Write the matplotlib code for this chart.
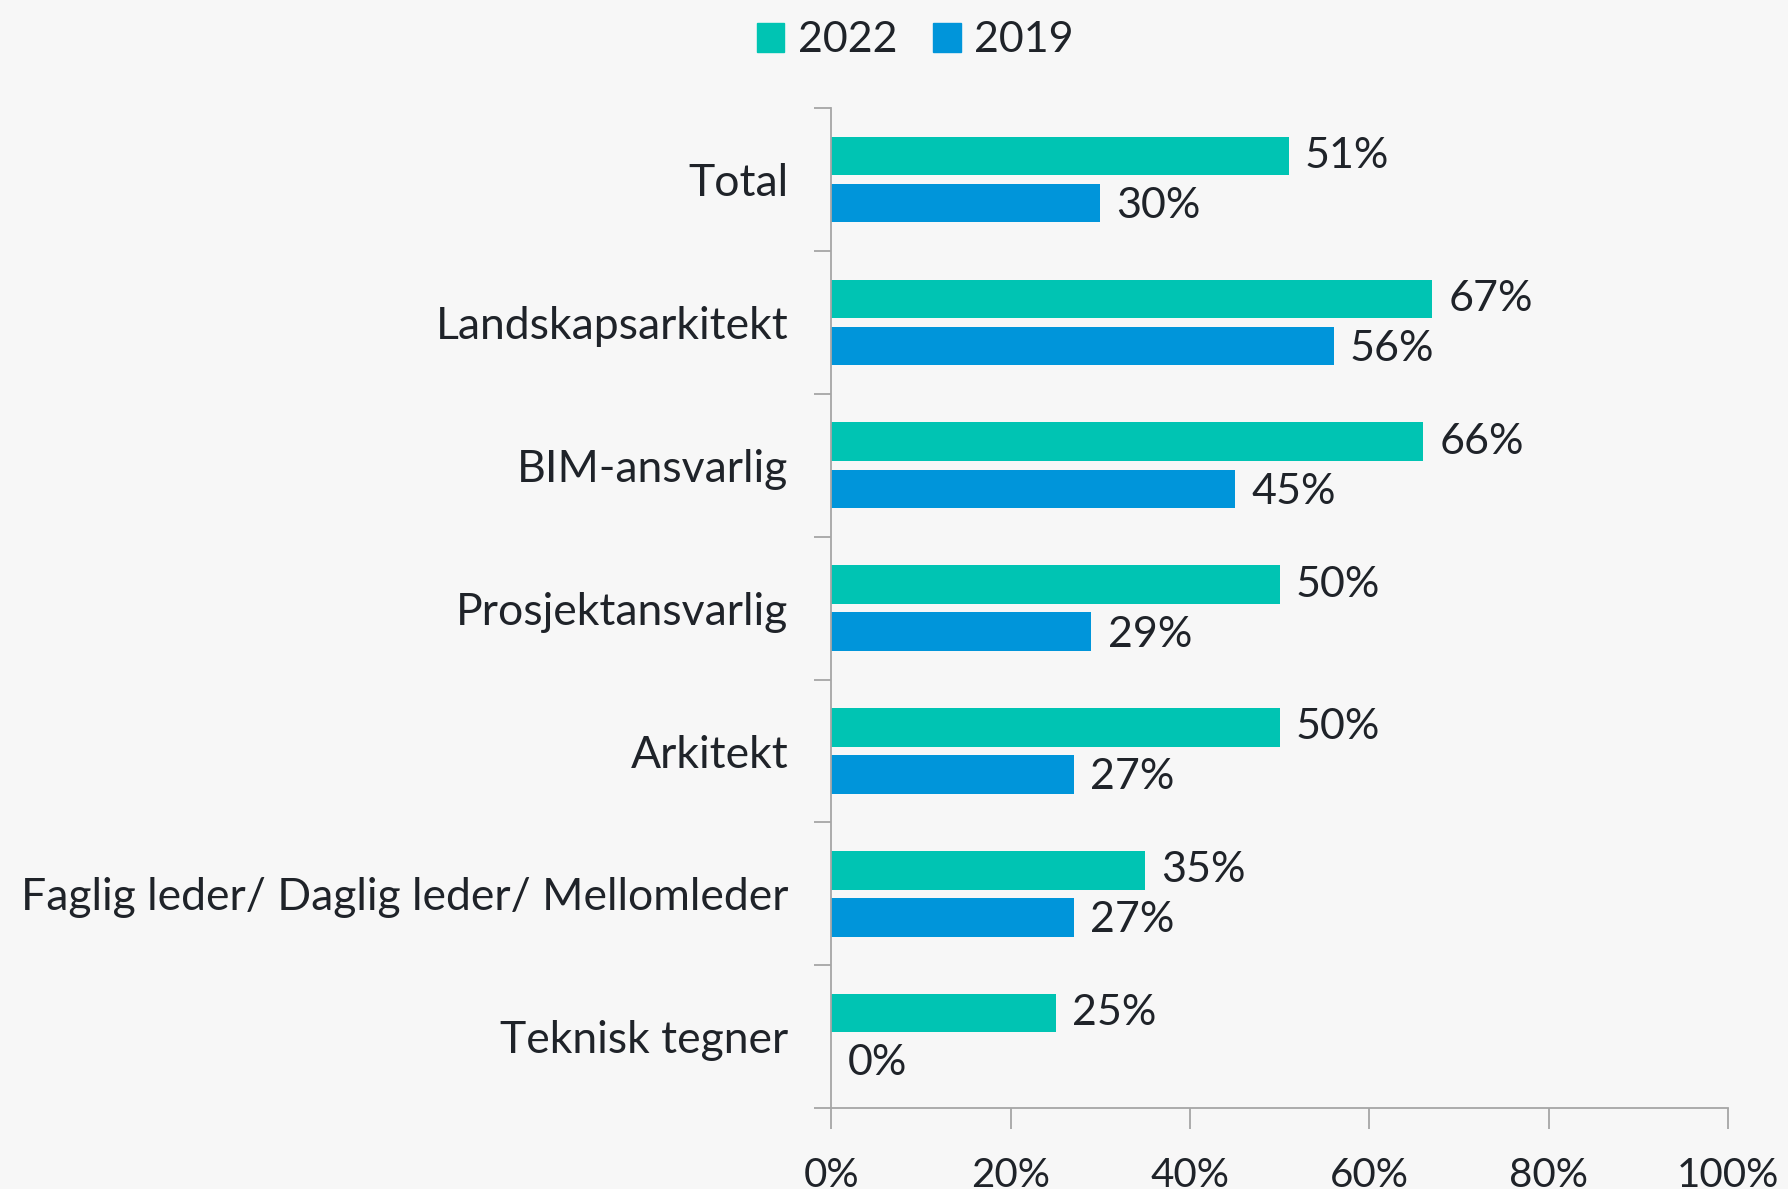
import matplotlib.pyplot as plt
import numpy as np
from matplotlib.patches import Patch
from matplotlib.ticker import FuncFormatter

plt.rcParams['font.family'] = ['Lato', 'DejaVu Sans']

categories = [
    "Total",
    "Landskapsarkitekt",
    "BIM-ansvarlig",
    "Prosjektansvarlig",
    "Arkitekt",
    "Faglig leder/ Daglig leder/ Mellomleder",
    "Teknisk tegner"
]

values_2022 = [51, 67, 66, 50, 50, 35, 25]
values_2019 = [30, 56, 45, 29, 27, 27, 0]

col_2022 = '#00C4B3'
col_2019 = '#0095DA'
bg = '#F7F7F7'
txt = '#1F2329'
axis_col = '#A6A6A6'

fig = plt.figure(figsize=(17.88, 11.89), dpi=100, facecolor=bg)
ax = fig.add_axes([0.465, 0.068, 0.5015, 0.841], facecolor=bg)

y = np.arange(len(categories))
h = 0.27
off = 0.165

ax.barh(y - off, values_2022, h, color=col_2022)
ax.barh(y + off, values_2019, h, color=col_2019)

for i in range(len(categories)):
    ax.text(values_2022[i] + 1.8, y[i] - off, f"{values_2022[i]}%",
            va='center', ha='left', fontsize=31, color=txt)
    ax.text(values_2019[i] + 1.8, y[i] + off + 0.02, f"{values_2019[i]}%",
            va='center', ha='left', fontsize=31, color=txt)

ax.set_xlim(0, 100)
ax.set_ylim(len(categories) - 0.5, -0.5)

ax.set_xticks(np.arange(0, 101, 20))
ax.xaxis.set_major_formatter(FuncFormatter(lambda v, p: f"{v:.0f}%"))
ax.tick_params(axis='x', length=15, width=1.3, color=axis_col,
               labelsize=29, labelcolor=txt, pad=20)

# category labels as minor ticks, boundaries as major ticks
ax.set_yticks(np.arange(-0.5, len(categories), 1.0))
ax.set_yticklabels([])
ax.set_yticks(y, minor=True)
ax.set_yticklabels(categories, minor=True)
ax.tick_params(axis='y', which='major', length=12, width=1.3, color=axis_col)
ax.tick_params(axis='y', which='minor', length=0, labelsize=32,
               labelcolor=txt, pad=31)

for s in ['top', 'right']:
    ax.spines[s].set_visible(False)
for s in ['left', 'bottom']:
    ax.spines[s].set_color(axis_col)
    ax.spines[s].set_linewidth(1.3)

handles = [Patch(color=col_2022, label='2022'), Patch(color=col_2019, label='2019')]
fig.legend(handles=handles, loc='center', bbox_to_anchor=(0.512, 0.966),
           ncol=2, frameon=False, fontsize=31, labelcolor=txt,
           handlelength=0.64, handleheight=0.64, handletextpad=0.32,
           columnspacing=0.82)

fig.savefig('out.png', dpi=100, facecolor=bg)
